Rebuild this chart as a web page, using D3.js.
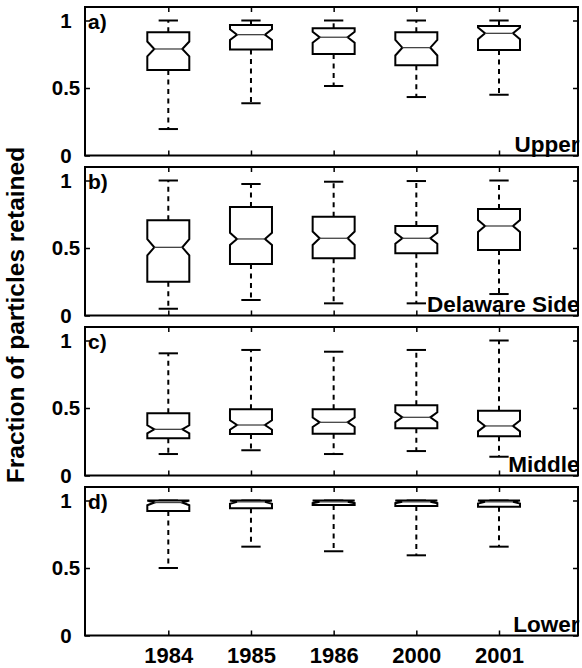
<!DOCTYPE html>
<html>
<head>
<meta charset="utf-8">
<script src="https://cdn.jsdelivr.net/npm/d3@7"></script>
<style>
  html, body { margin: 0; padding: 0; background: #fff; }
  svg { display: block; }
  text { font-family: "Liberation Sans", Arial, Helvetica, sans-serif; font-weight: bold; fill: #000; }
</style>
</head>
<body>
<svg id="chart" width="582" height="668"></svg>
<script>
// Survey years (x categories)
const years = ["1984", "1985", "1986", "2000", "2001"];

// Regions, one panel each
const panelLetters = ["a)", "b)", "c)", "d)"];
const panelNames = ["Upper", "Delaware Side", "Middle", "Lower"];
const yTicks = [0, 0.5, 1];

// Box-plot statistics per region (rows) and year (columns)
const whiskerHigh = [
  [1.00, 1.00, 1.00, 1.00, 1.00],
  [1.00, 0.974, 0.991, 0.996, 1.00],
  [0.905, 0.93, 0.917, 0.93, 1.00],
  [1.00, 1.00, 1.00, 1.00, 1.00]
];
const quartile3 = [
  [0.913, 0.967, 0.942, 0.913, 0.959],
  [0.705, 0.804, 0.732, 0.663, 0.789],
  [0.461, 0.49, 0.49, 0.52, 0.48],
  [1.00, 1.00, 1.00, 1.00, 1.00]
];
const medians = [
  [0.789, 0.895, 0.876, 0.799, 0.905],
  [0.505, 0.567, 0.572, 0.572, 0.663],
  [0.342, 0.374, 0.394, 0.431, 0.367],
  [0.985, 0.99, 0.99, 0.99, 0.99]
];
const quartile1 = [
  [0.633, 0.786, 0.752, 0.668, 0.781],
  [0.25, 0.381, 0.424, 0.461, 0.485],
  [0.276, 0.307, 0.31, 0.35, 0.29],
  [0.922, 0.942, 0.967, 0.959, 0.954]
];
const whiskerLow = [
  [0.196, 0.387, 0.515, 0.433, 0.45],
  [0.05, 0.115, 0.09, 0.09, 0.159],
  [0.159, 0.187, 0.159, 0.181, 0.139],
  [0.50, 0.658, 0.624, 0.594, 0.658]
];
// Half-height of the median confidence notch
const notchHalf = [
  [0.055, 0.04, 0.04, 0.058, 0.043],
  [0.06, 0.045, 0.05, 0.04, 0.045],
  [0.03, 0.035, 0.035, 0.037, 0.04],
  [0.02, 0.015, 0.01, 0.01, 0.012]
];

const svg = d3.select("#chart");
const axLeft = 85, axRight = 578;
const panelStep = 160, panelBottom0 = 155.5, panelH = 148.5;

const x = d3.scalePoint().domain(years).range([168.3, 499]);
const step = x.step();
const halfW = step * 0.254;
const notchIn = halfW / 3;
const capHalf = halfW * 0.46;

panelNames.forEach((name, p) => {
  const bottom = panelBottom0 + p * panelStep;
  const y = d3.scaleLinear().domain([0, 1.1]).range([bottom, bottom - panelH]);
  const g = svg.append("g");

  // Whiskers (dashed) and caps
  years.forEach((yr, i) => {
    const cx = x(yr);
    const q1 = quartile1[p][i], q3 = quartile3[p][i];
    const md = medians[p][i], nh = notchHalf[p][i];
    const hi = whiskerHigh[p][i], lo = whiskerLow[p][i];

    if (hi > q3) {
      g.append("line").attr("x1", cx).attr("x2", cx).attr("y1", y(q3)).attr("y2", y(hi))
        .attr("stroke", "#000").attr("stroke-width", 2).attr("stroke-dasharray", "5,4.5");
    }
    g.append("line").attr("x1", cx - capHalf).attr("x2", cx + capHalf).attr("y1", y(hi)).attr("y2", y(hi))
      .attr("stroke", "#000").attr("stroke-width", 2);
    g.append("line").attr("x1", cx).attr("x2", cx).attr("y1", y(q1)).attr("y2", y(lo))
      .attr("stroke", "#000").attr("stroke-width", 2).attr("stroke-dasharray", "5,4.5");
    g.append("line").attr("x1", cx - capHalf).attr("x2", cx + capHalf).attr("y1", y(lo)).attr("y2", y(lo))
      .attr("stroke", "#000").attr("stroke-width", 2);

    // Notched box
    const nLo = Math.max(q1, md - nh), nHi = Math.min(q3, md + nh);
    const pts = [
      [cx - halfW, y(q1)], [cx - halfW, y(nLo)], [cx - halfW + notchIn, y(md)],
      [cx - halfW, y(nHi)], [cx - halfW, y(q3)], [cx + halfW, y(q3)],
      [cx + halfW, y(nHi)], [cx + halfW - notchIn, y(md)], [cx + halfW, y(nLo)],
      [cx + halfW, y(q1)]
    ];
    g.append("path").attr("d", d3.line()(pts) + "Z")
      .attr("fill", "#fff").attr("stroke", "#000").attr("stroke-width", 2)
      .attr("stroke-linejoin", "miter");
    g.append("line").attr("x1", cx - halfW + notchIn).attr("x2", cx + halfW - notchIn)
      .attr("y1", y(md)).attr("y2", y(md))
      .attr("stroke", "#444").attr("stroke-width", 1.3);
  });

  // Axes with inward ticks
  const left = g.append("g").attr("transform", `translate(${axLeft},0)`)
    .call(d3.axisLeft(y).tickValues(yTicks).tickFormat(d3.format("~g"))
      .tickSizeInner(-5).tickSizeOuter(0).tickPadding(19));
  left.select(".domain").remove();
  left.selectAll(".tick line").attr("stroke", "#000").attr("stroke-width", 1.5);
  left.selectAll(".tick text").attr("text-anchor", "middle").attr("font-size", 20.5)
    .attr("font-family", null).attr("fill", "#000");

  const right = g.append("g").attr("transform", `translate(${axRight},0)`)
    .call(d3.axisRight(y).tickValues(yTicks).tickFormat("").tickSizeInner(-5).tickSizeOuter(0));
  right.select(".domain").remove();
  right.selectAll(".tick line").attr("stroke", "#000").attr("stroke-width", 1.5);

  const top = g.append("g").attr("transform", `translate(0,${bottom - panelH})`)
    .call(d3.axisTop(x).tickFormat("").tickSizeInner(-5).tickSizeOuter(0));
  top.select(".domain").remove();
  top.selectAll(".tick line").attr("stroke", "#000").attr("stroke-width", 1.5);

  const bot = g.append("g").attr("transform", `translate(0,${bottom})`)
    .call(d3.axisBottom(x).tickSizeInner(-5).tickSizeOuter(0).tickPadding(12)
      .tickFormat(p === panelNames.length - 1 ? (d => d) : ""));
  bot.select(".domain").remove();
  bot.selectAll(".tick line").attr("stroke", "#000").attr("stroke-width", 1.5);
  bot.selectAll(".tick text").attr("font-size", 22).attr("font-family", null).attr("fill", "#000");

  // Axes frame
  g.append("rect").attr("x", axLeft).attr("y", bottom - panelH)
    .attr("width", axRight - axLeft).attr("height", panelH)
    .attr("fill", "none").attr("stroke", "#000").attr("stroke-width", 2);

  // Panel letter and region name
  g.append("text").attr("x", 88).attr("y", bottom - panelH + 22)
    .attr("font-size", 21).text(panelLetters[p]);
  g.append("text").attr("x", axRight + 1.5).attr("y", bottom - 4)
    .attr("text-anchor", "end").attr("font-size", 22.5).text(name);
});

// Shared y-axis title
svg.append("text")
  .attr("transform", "translate(24,315) rotate(-90)")
  .attr("text-anchor", "middle").attr("font-size", 24.5)
  .text("Fraction of particles retained");
</script>
</body>
</html>
